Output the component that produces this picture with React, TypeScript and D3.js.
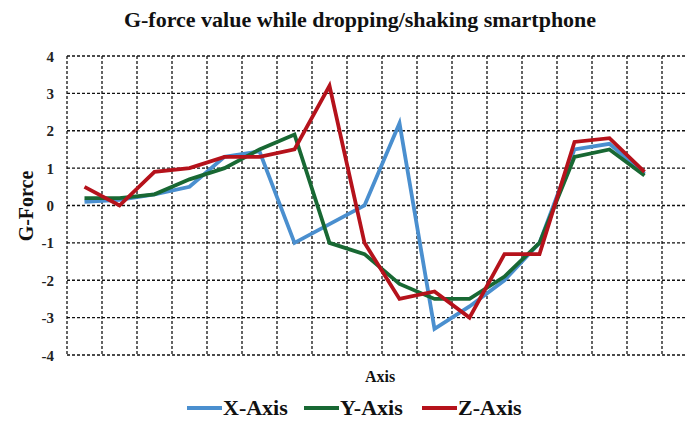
import { useEffect, useRef } from 'react';
import * as d3 from 'd3';

// 18 sample slots on the x axis, last one has no reading
const CATEGORIES = d3.range(1, 19).map(String);
const Y_TICKS = [-4, -3, -2, -1, 0, 1, 2, 3, 4];

const X_AXIS = [0.1, 0.15, 0.3, 0.5, 1.3, 1.45, -1.0, -0.5, 0.0, 2.2, -3.3, -2.7, -2.0, -1.0, 1.5, 1.65, 0.85];
const Y_AXIS = [0.2, 0.2, 0.3, 0.7, 1.0, 1.5, 1.9, -1.0, -1.3, -2.1, -2.5, -2.5, -1.9, -1.0, 1.3, 1.5, 0.8];
const Z_AXIS = [0.5, 0.0, 0.9, 1.0, 1.3, 1.3, 1.5, 3.2, -1.0, -2.5, -2.3, -3.0, -1.3, -1.3, 1.7, 1.8, 0.9];

const SERIES = [
  { name: 'X-Axis', values: X_AXIS, color: '#4a8fcf' },
  { name: 'Y-Axis', values: Y_AXIS, color: '#186833' },
  { name: 'Z-Axis', values: Z_AXIS, color: '#b5121b' },
];

const FONT = '"Liberation Serif", "Times New Roman", serif';

export default function App() {
  const svgRef = useRef<SVGSVGElement>(null);

  useEffect(() => {
    const svg = d3.select(svgRef.current);
    if (!svg.node()) return;
    svg.selectAll('*').remove();

    const width = 685;
    const height = 426;
    const margin = { top: 56, left: 67, bottom: 355, right: 697 };

    const x = d3.scaleBand<string>().domain(CATEGORIES).range([margin.left, margin.right]).padding(0);
    const y = d3.scaleLinear().domain([-4, 4]).range([margin.bottom, margin.top]);
    const cx = (i: number) => x(CATEGORIES[i])! + x.bandwidth() / 2;

    svg.attr('viewBox', `0 0 ${width} ${height}`);
    svg.append('rect').attr('width', width).attr('height', height).attr('fill', '#fff');

    const grid = svg.append('g').attr('stroke', '#111').attr('stroke-width', 1.3).attr('stroke-dasharray', '3 2');

    grid.selectAll('line.h')
      .data(Y_TICKS)
      .join('line')
      .attr('class', 'h')
      .attr('x1', margin.left)
      .attr('x2', margin.right)
      .attr('y1', (d) => y(d))
      .attr('y2', (d) => y(d));

    const vEdges = [...CATEGORIES.map((c) => x(c)!), margin.right];
    grid.selectAll('line.v')
      .data(vEdges)
      .join('line')
      .attr('class', 'v')
      .attr('x1', (d) => d)
      .attr('x2', (d) => d)
      .attr('y1', margin.top)
      .attr('y2', margin.bottom);

    svg.append('g')
      .selectAll('text')
      .data(Y_TICKS)
      .join('text')
      .attr('x', 54)
      .attr('y', (d) => y(d) + 5.5)
      .attr('text-anchor', 'end')
      .attr('font-family', FONT)
      .attr('font-weight', 'bold')
      .attr('font-size', 15)
      .attr('fill', '#222')
      .text((d) => String(d));

    const line = d3
      .line<number>()
      .x((_, i) => cx(i))
      .y((d) => y(d));

    SERIES.forEach((s) => {
      svg.append('path')
        .datum(s.values)
        .attr('fill', 'none')
        .attr('stroke', s.color)
        .attr('stroke-width', 3.8)
        .attr('stroke-linejoin', 'miter')
        .attr('d', line);
    });

    svg.append('text')
      .attr('x', 360)
      .attr('y', 27)
      .attr('text-anchor', 'middle')
      .attr('font-family', FONT)
      .attr('font-weight', 'bold')
      .attr('font-size', 22)
      .attr('fill', '#111')
      .text('G-force value while dropping/shaking smartphone');

    svg.append('text')
      .attr('transform', 'rotate(-90)')
      .attr('x', -206)
      .attr('y', 33)
      .attr('text-anchor', 'middle')
      .attr('font-family', FONT)
      .attr('font-weight', 'bold')
      .attr('font-size', 20)
      .attr('fill', '#111')
      .text('G-Force');

    svg.append('text')
      .attr('x', 380)
      .attr('y', 382)
      .attr('text-anchor', 'middle')
      .attr('font-family', FONT)
      .attr('font-weight', 'bold')
      .attr('font-size', 16)
      .attr('fill', '#111')
      .text('Axis');

    const legendX = [187, 304, 422];
    SERIES.forEach((s, i) => {
      const lx = legendX[i];
      svg.append('line')
        .attr('x1', lx)
        .attr('x2', lx + 35)
        .attr('y1', 408)
        .attr('y2', 408)
        .attr('stroke', s.color)
        .attr('stroke-width', 3.8);
      svg.append('text')
        .attr('x', lx + 36)
        .attr('y', 415)
        .attr('font-family', FONT)
        .attr('font-weight', 'bold')
        .attr('font-size', 22)
        .attr('fill', '#111')
        .text(s.name);
    });
  }, []);

  return (
    <svg
      ref={svgRef}
      width={685}
      height={426}
      style={{ position: 'absolute', left: 0, top: 0, display: 'block' }}
    />
  );
}
